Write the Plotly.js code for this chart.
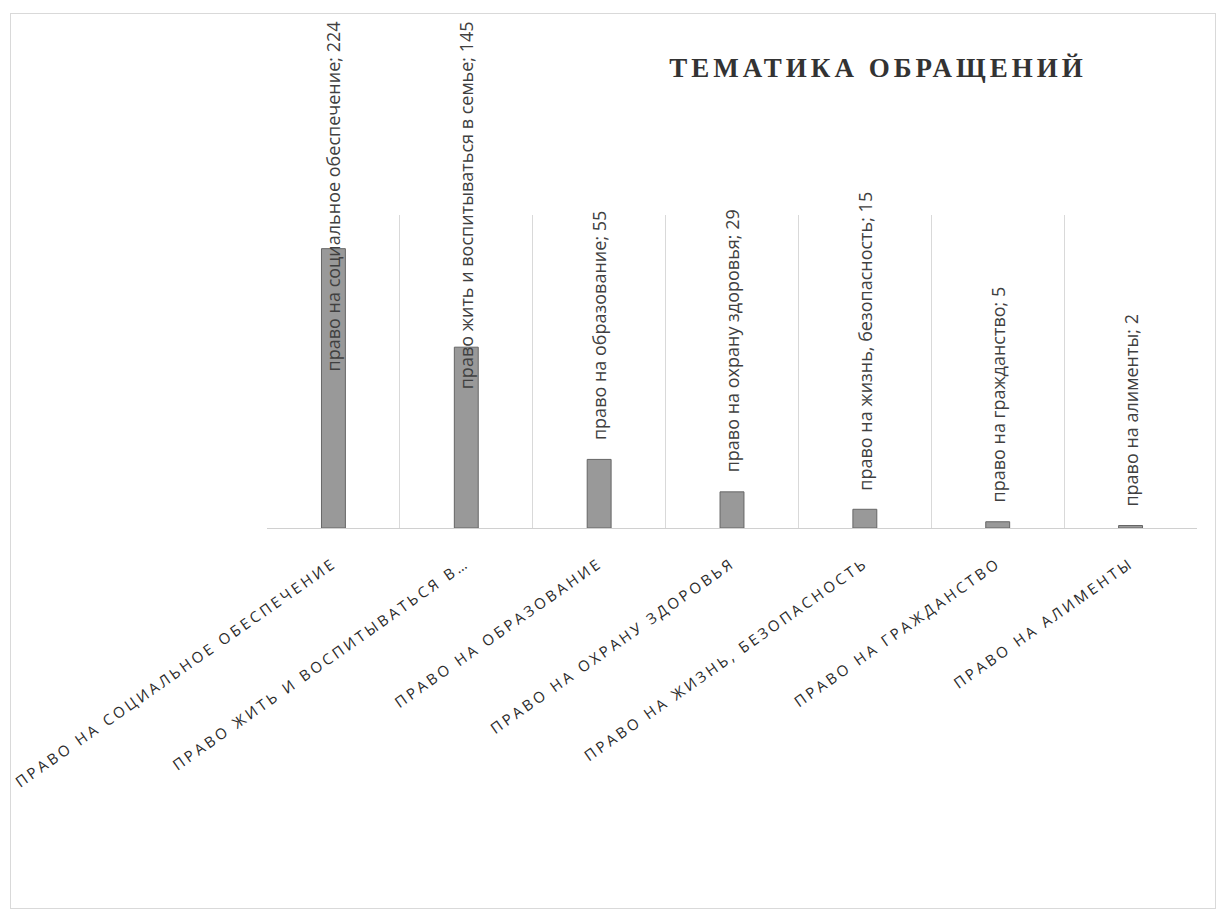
<!DOCTYPE html>
<html>
<head>
<meta charset="utf-8">
<script src="https://cdn.plot.ly/plotly-3.0.1.min.js"></script>
<style>
  html, body { margin: 0; padding: 0; background: #ffffff; width: 1217px; height: 909px; overflow: hidden; }
  #chart { position: absolute; left: 0; top: 0; width: 1217px; height: 909px; }
  #frame { position: absolute; left: 10px; top: 13px; width: 1204px; height: 894px; border: 1px solid #d9d9d9; pointer-events: none; }
  .xtick text { letter-spacing: 3px; }
  .gtitle { letter-spacing: 4px; }
</style>
</head>
<body>
<div id="chart"></div>
<div id="frame"></div>
<script>
// ---- data ----
const categories = [
  "ПРАВО НА СОЦИАЛЬНОЕ ОБЕСПЕЧЕНИЕ",
  "ПРАВО ЖИТЬ И ВОСПИТЫВАТЬСЯ В СЕМЬЕ",
  "ПРАВО НА ОБРАЗОВАНИЕ",
  "ПРАВО НА ОХРАНУ ЗДОРОВЬЯ",
  "ПРАВО НА ЖИЗНЬ, БЕЗОПАСНОСТЬ",
  "ПРАВО НА ГРАЖДАНСТВО",
  "ПРАВО НА АЛИМЕНТЫ"
];
const tickLabels = [
  "ПРАВО НА СОЦИАЛЬНОЕ ОБЕСПЕЧЕНИЕ",
  "ПРАВО ЖИТЬ И ВОСПИТЫВАТЬСЯ В…",
  "ПРАВО НА ОБРАЗОВАНИЕ",
  "ПРАВО НА ОХРАНУ ЗДОРОВЬЯ",
  "ПРАВО НА ЖИЗНЬ, БЕЗОПАСНОСТЬ",
  "ПРАВО НА ГРАЖДАНСТВО",
  "ПРАВО НА АЛИМЕНТЫ"
];
const labelNames = [
  "право на социальное обеспечение",
  "право жить и воспитываться в семье",
  "право на образование",
  "право на охрану здоровья",
  "право на жизнь, безопасность",
  "право на гражданство",
  "право на алименты"
];
const values = [224, 145, 55, 29, 15, 5, 2];
const titleText = "ТЕМАТИКА ОБРАЩЕНИЙ";

// ---- layout constants ----
const W = 1217, H = 909;
const M = { l: 267, r: 20, t: 215, b: 381 };
const plotH = H - M.t - M.b;
const yMax = 251;
const labelFont = { family: "Open Sans, sans-serif", size: 18, color: "#404040" };
const charPx = 9.8;
const topLimitPx = 19;
const gapPx = 17;

const annotations = values.map((v, i) => {
  const text = labelNames[i] + "; " + v;
  const barTopPx = v / yMax * plotH;
  const estLen = text.length * charPx;
  const overflow = barTopPx + gapPx + estLen > (M.t + plotH - topLimitPx);
  const base = {
    x: categories[i], xref: "x",
    text: text, textangle: -90, showarrow: false,
    font: labelFont, xanchor: "center"
  };
  if (overflow) {
    return Object.assign(base, { yref: "paper", y: 1 + (M.t - topLimitPx) / plotH, yanchor: "top" });
  }
  return Object.assign(base, { yref: "y", y: v, yanchor: "bottom", yshift: gapPx });
});

const trace = {
  type: "bar",
  x: categories,
  y: values,
  width: 0.18,
  marker: { color: "#999999", line: { color: "#666666", width: 1 } },
  hoverinfo: "x+y"
};

const layout = {
  width: W, height: H,
  margin: M,
  paper_bgcolor: "rgba(0,0,0,0)",
  plot_bgcolor: "rgba(0,0,0,0)",
  showlegend: false,
  title: {
    text: "<b>" + titleText + "</b>",
    font: { family: "Liberation Serif, Times New Roman, serif", size: 27, color: "#333333" },
    x: 878 / W, xref: "container", xanchor: "center",
    y: 1 - 68 / H, yref: "container", yanchor: "middle"
  },
  xaxis: {
    type: "category",
    tickmode: "array",
    tickvals: categories,
    ticktext: tickLabels,
    range: [-0.5, categories.length - 0.5],
    tickangle: -35,
    tickson: "boundaries",
    ticks: "",
    ticklabelstandoff: 20,
    showgrid: true,
    gridcolor: "#d9d9d9",
    gridwidth: 1,
    showline: true,
    linecolor: "#d0d0d0",
    linewidth: 1,
    automargin: false,
    tickfont: { family: "Open Sans, sans-serif", size: 15, color: "#2b2b2b" }
  },
  yaxis: {
    range: [0, yMax],
    showgrid: false,
    showticklabels: false,
    zeroline: false,
    showline: false,
    ticks: ""
  },
  annotations: annotations
};

Plotly.newPlot("chart", [trace], layout, { displayModeBar: false, staticPlot: true });
</script>
</body>
</html>
